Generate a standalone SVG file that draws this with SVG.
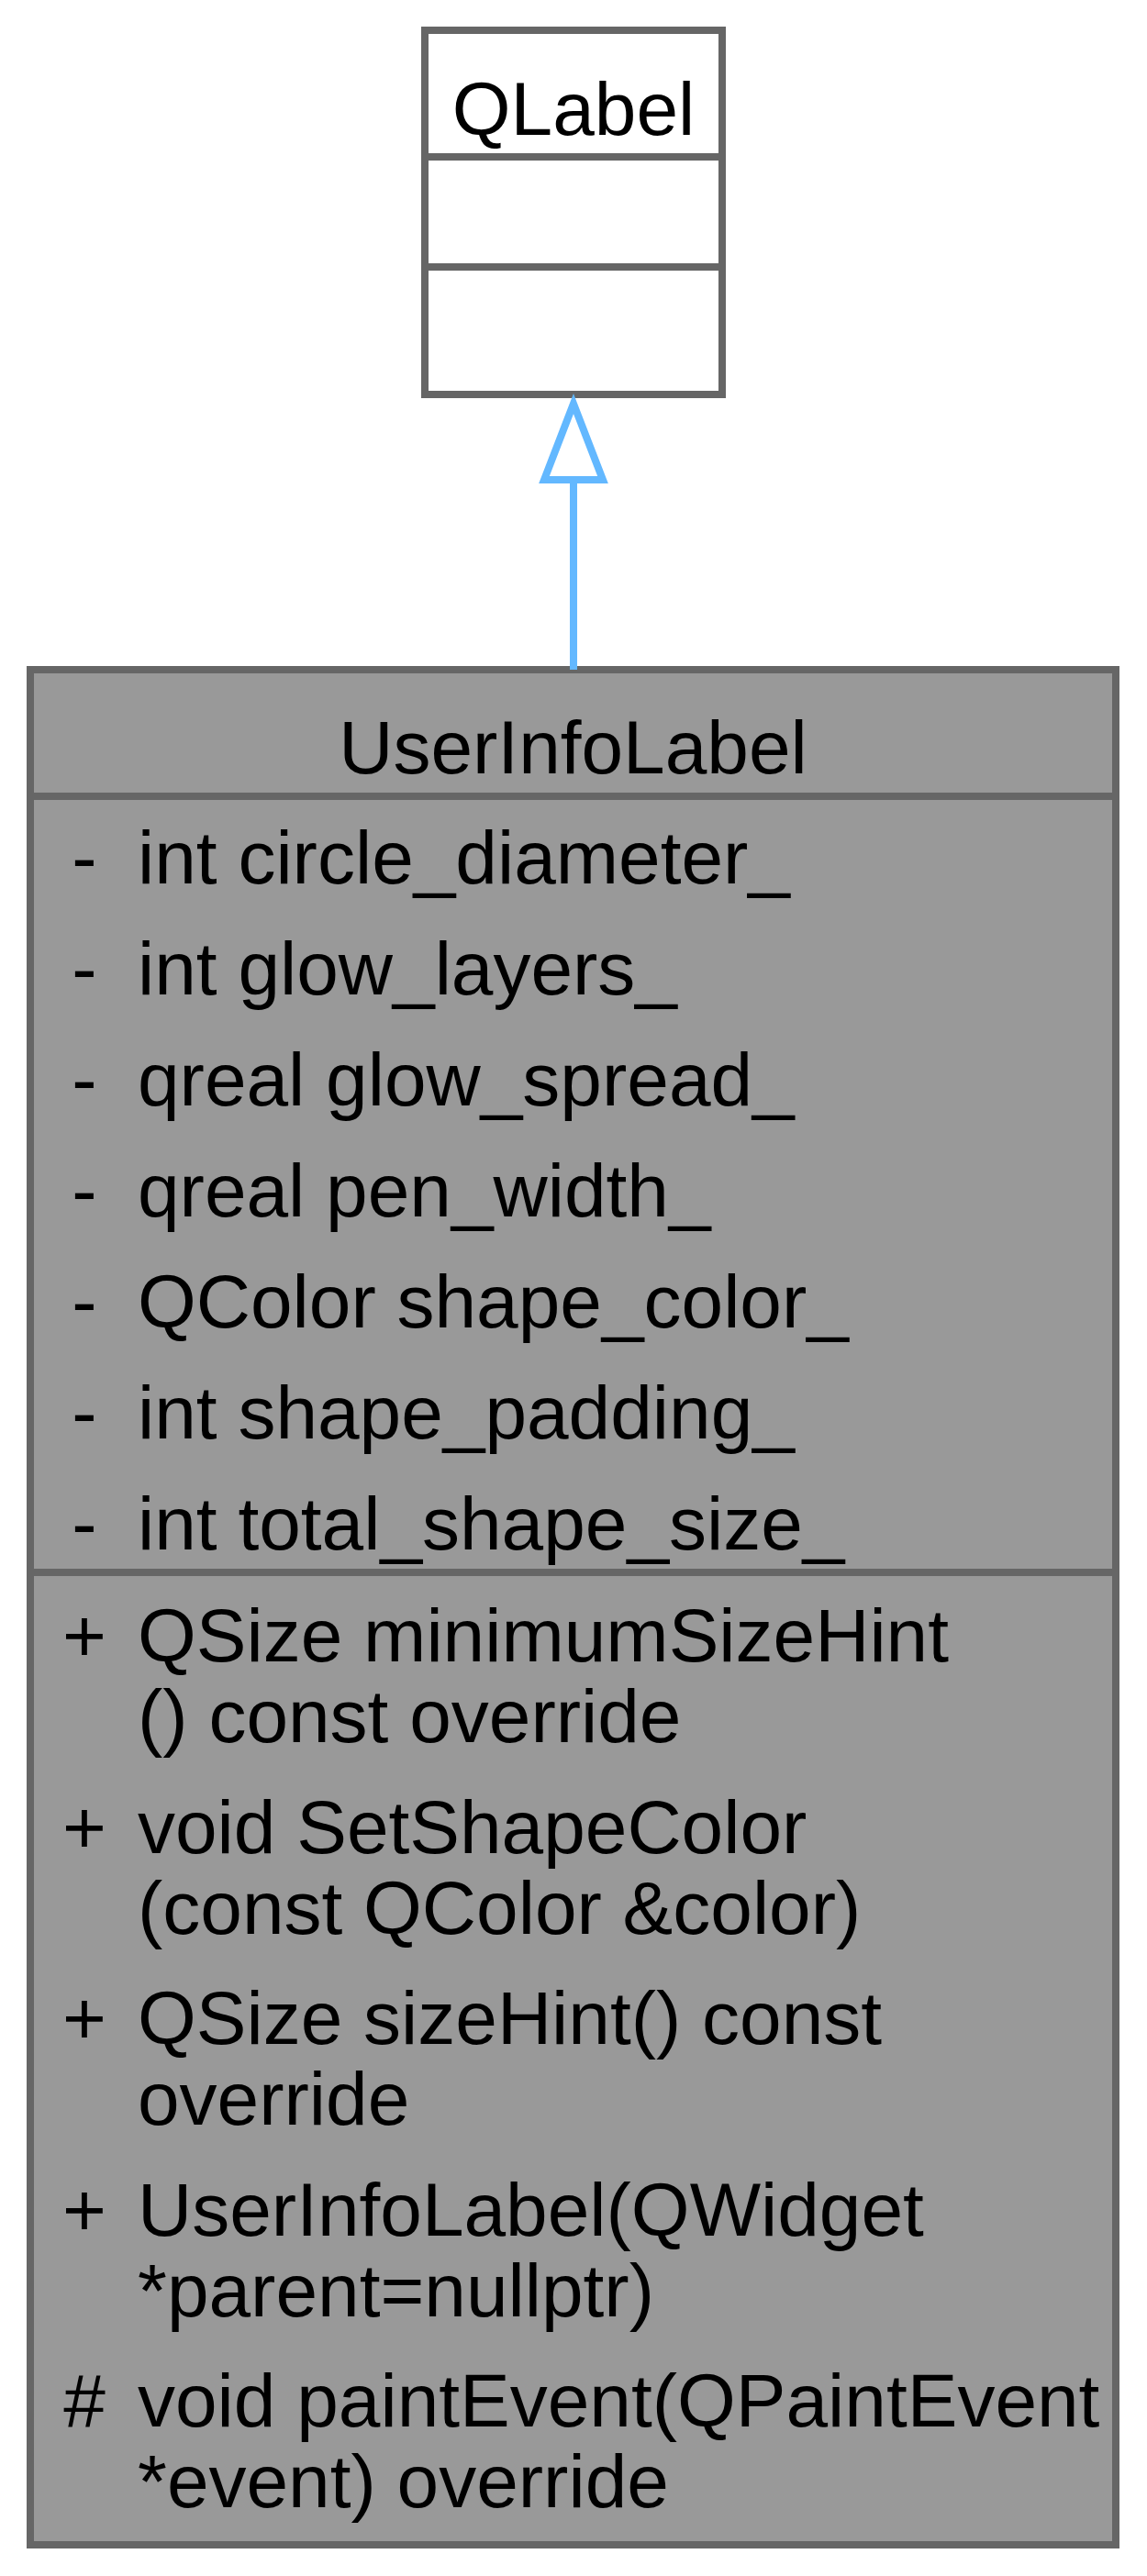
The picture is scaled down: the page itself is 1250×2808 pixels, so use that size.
<svg xmlns="http://www.w3.org/2000/svg" width="1250" height="2808" viewBox="0 0 1250 2808">
<style>
  text { font-family: "Liberation Sans", Arial, Helvetica, sans-serif; font-size: 82px; fill: #000000; }
  .title { text-anchor: middle; }
  .sym { text-anchor: middle; }
  .box { stroke: #666666; stroke-width: 8; }
  .sep { stroke: #666666; stroke-width: 8; fill: none; }
  .edge { stroke: #63b8ff; stroke-width: 8; fill: none; }
  .head { stroke: #63b8ff; stroke-width: 8; fill: #ffffff; }
</style>
<rect width="1250" height="2808" fill="#ffffff"/>

<g id="node-QLabel">
  <rect class="box" x="463" y="33" width="324" height="397" fill="#ffffff"/>
  <line class="sep" x1="463" y1="171" x2="787" y2="171"/>
  <line class="sep" x1="463" y1="291" x2="787" y2="291"/>
  <text class="title" x="625" y="147">QLabel</text>
</g>

<g id="node-UserInfoLabel">
  <rect class="box" x="33" y="730" width="1183" height="2044" fill="#999999"/>
  <line class="sep" x1="33" y1="868" x2="1216" y2="868"/>
  <line class="sep" x1="33" y1="1714" x2="1216" y2="1714"/>
  <text class="title" x="624.5" y="843">UserInfoLabel</text>

  <text class="sym" x="92" y="963">-</text>
  <text x="150" y="963">int circle_diameter_</text>
  <text class="sym" x="92" y="1084">-</text>
  <text x="150" y="1084">int glow_layers_</text>
  <text class="sym" x="92" y="1205">-</text>
  <text x="150" y="1205">qreal glow_spread_</text>
  <text class="sym" x="92" y="1326">-</text>
  <text x="150" y="1326">qreal pen_width_</text>
  <text class="sym" x="92" y="1447">-</text>
  <text x="150" y="1447">QColor shape_color_</text>
  <text class="sym" x="92" y="1568">-</text>
  <text x="150" y="1568">int shape_padding_</text>
  <text class="sym" x="92" y="1689">-</text>
  <text x="150" y="1689">int total_shape_size_</text>

  <text class="sym" x="92" y="1811">+</text>
  <text x="150" y="1811">QSize minimumSizeHint</text>
  <text x="150" y="1899">() const override</text>
  <text class="sym" x="92" y="2019.5">+</text>
  <text x="150" y="2019.5">void SetShapeColor</text>
  <text x="150" y="2107.5">(const QColor &amp;color)</text>
  <text class="sym" x="92" y="2228">+</text>
  <text x="150" y="2228">QSize sizeHint() const</text>
  <text x="150" y="2316">override</text>
  <text class="sym" x="92" y="2436.5">+</text>
  <text x="150" y="2436.5">UserInfoLabel(QWidget</text>
  <text x="150" y="2524.5">*parent=nullptr)</text>
  <text class="sym" x="92" y="2645">#</text>
  <text x="150" y="2645">void paintEvent(QPaintEvent</text>
  <text x="150" y="2733">*event) override</text>
</g>

<g id="connectors">
  <line class="edge" x1="625" y1="730" x2="625" y2="523"/>
  <polygon class="head" points="625,440 593,523 657,523"/>
</g>
</svg>
